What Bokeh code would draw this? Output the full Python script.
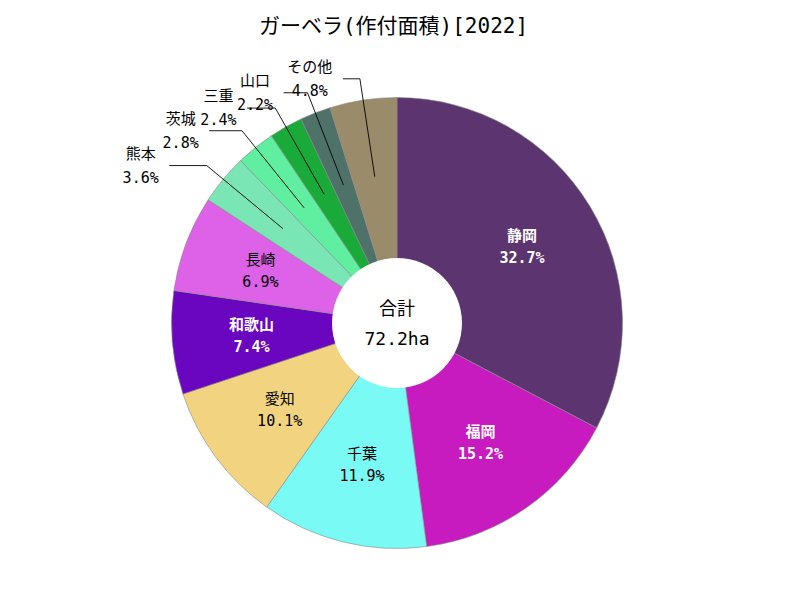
import math
from bokeh.plotting import figure
from bokeh.models import ColumnDataSource, Range1d
from bokeh.core.properties import value
from bokeh.embed import file_html
from bokeh.resources import INLINE

# ---- data ----
prefectures = ["静岡", "福岡", "千葉", "愛知", "和歌山", "長崎", "熊本", "茨城", "三重", "山口", "その他"]
shares = [32.7, 15.2, 11.9, 10.1, 7.4, 6.9, 3.6, 2.8, 2.4, 2.2, 4.8]
total_ha = 72.2
total_label = "合計"
title_text = "ガーベラ(作付面積)[2022]"

# ---- styles ----
slice_colors = ["#5c3470", "#c71bc0", "#79faf5", "#f2d480", "#6a05c0", "#dd62e8",
                "#7ae6b6", "#60eea0", "#1aaa3a", "#4e7268", "#9a8b6b"]
FONT = "'DejaVu Sans Mono', 'Noto Sans CJK JP', monospace"
W, H = 800, 600
CX, CY = 396.5, H - 322.5
R_OUT, R_IN = 225.5, 65.0
R_LABEL = 146.0
R_ELBOW = 247.0
INSIDE_MIN = 5.0

p = figure(width=W, height=H, x_range=Range1d(0, W), y_range=Range1d(0, H),
           output_backend="svg", toolbar_location=None,
           x_axis_type=None, y_axis_type=None, min_border=0)
p.grid.visible = False
p.outline_line_color = None
p.background_fill_color = "white"
p.border_fill_color = "white"


def lum(hexc):
    r, g, b = int(hexc[1:3], 16), int(hexc[3:5], 16), int(hexc[5:7], 16)
    return 0.299 * r + 0.587 * g + 0.114 * b


starts, ends, mids = [], [], []
cum = 0.0
total_share = sum(shares)
for v in shares:
    f0 = cum / total_share
    f1 = (cum + v) / total_share
    starts.append(math.pi / 2 - 2 * math.pi * f1)
    ends.append(math.pi / 2 - 2 * math.pi * f0)
    mids.append(2 * math.pi * (f0 + f1) / 2)  # clockwise from top
    cum += v

wsrc = ColumnDataSource(dict(start=starts, end=ends, color=slice_colors))
p.wedge(x=CX, y=CY, radius=R_OUT, start_angle="start", end_angle="end",
        fill_color="color", line_color="#8a8a8a", line_width=0.6, source=wsrc)
p.circle(x=CX, y=CY, radius=R_IN, fill_color="white", line_color=None)

pct_texts = [f"{v:.1f}%" for v in shares]

# inside labels
in_x, in_y1, in_y2, in_name, in_pct, in_col, in_style = [], [], [], [], [], [], []
# outside labels
lx, ly, out_x, out_y1, out_y2, out_name, out_pct = [], [], [], [], [], [], []
for name, v, pct, th, col in zip(prefectures, shares, pct_texts, mids, slice_colors):
    sx, cy_ = math.sin(th), math.cos(th)
    if v >= INSIDE_MIN:
        x = CX + R_LABEL * sx
        y = CY + R_LABEL * cy_
        in_x.append(x); in_y1.append(y + 11); in_y2.append(y - 11)
        in_name.append(name); in_pct.append(pct)
        dark = lum(col) < 128
        in_col.append("white" if dark else "black")
        in_style.append("bold" if dark else "normal")
    else:
        ax, ay = CX + 148 * sx, CY + 148 * cy_
        bx, by = CX + R_ELBOW * sx, CY + R_ELBOW * cy_
        hlen = 12 + 33 * abs(sx)
        c_x = bx - hlen
        lx.append([ax, bx, c_x]); ly.append([ay, by, by])
        w = max(len(name) * 15.5, len(pct) * 9.3)
        out_x.append(c_x - 10 - w / 2)
        out_y1.append(by + 12); out_y2.append(by - 12)
        out_name.append(name); out_pct.append(pct)

p.multi_line(xs=lx, ys=ly, line_color="black", line_width=0.9)

isrc = ColumnDataSource(dict(x=in_x, y1=in_y1, y2=in_y2, name=in_name, pct=in_pct,
                             col=in_col, style=in_style))
for ycol, tcol in (("y1", "name"), ("y2", "pct")):
    p.text(x="x", y=ycol, text=tcol, source=isrc, text_color="col",
           text_font_style="style", text_font=value(FONT), text_font_size="15px",
           text_align="center", text_baseline="middle")

osrc = ColumnDataSource(dict(x=out_x, y1=out_y1, y2=out_y2, name=out_name, pct=out_pct))
for ycol, tcol in (("y1", "name"), ("y2", "pct")):
    p.text(x="x", y=ycol, text=tcol, source=osrc, text_color="black",
           text_font=value(FONT), text_font_size="15px",
           text_align="center", text_baseline="middle")

# centre texts
p.text(x=[CX], y=[CY + 15], text=[total_label], text_color="black",
       text_font=value(FONT), text_font_size="18px", text_align="center", text_baseline="middle")
p.text(x=[CX], y=[CY - 15], text=[f"{total_ha:.1f}ha"], text_color="black",
       text_font=value(FONT), text_font_size="18px", text_align="center", text_baseline="middle")

# title
p.text(x=[393], y=[H - 25], text=[title_text], text_color="black",
       text_font=value(FONT), text_font_size="21px", text_align="center", text_baseline="middle")

open("out.html", "w").write(file_html(p, INLINE))
